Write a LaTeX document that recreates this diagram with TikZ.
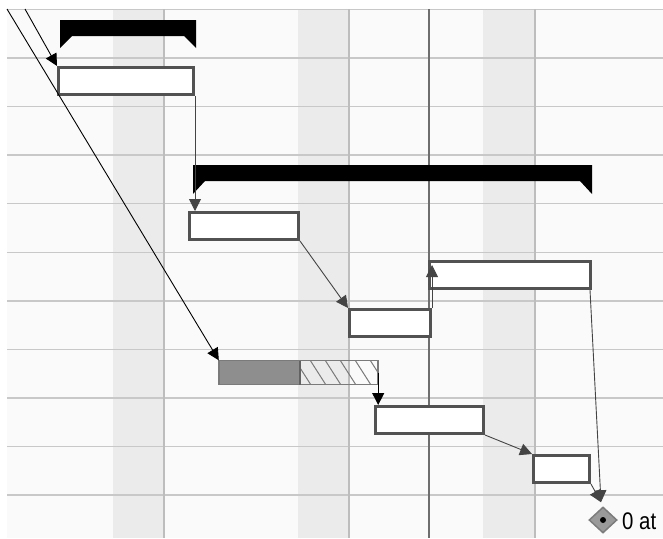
\documentclass[tikz,border=0pt]{standalone}
\usepackage{fontspec}
\usetikzlibrary{arrows.meta,shapes.geometric,calc}
\definecolor{bgc}{HTML}{FAFAFA}
\definecolor{bandc}{HTML}{EBEBEB}
\definecolor{gridc}{HTML}{C8C8C8}
\definecolor{vgridc}{HTML}{BDBDBD}
\definecolor{taskc}{HTML}{525252}
\definecolor{linkc}{HTML}{444444}
\definecolor{datec}{HTML}{6E6E6E}
\definecolor{donec}{HTML}{8E8E8E}
\definecolor{progc}{HTML}{7A7A7A}
\definecolor{msfill}{HTML}{9A9A9A}
\definecolor{msdraw}{HTML}{7C7C7C}
\newfontfamily\labelfont{Liberation Sans}
\begin{document}
\begin{tikzpicture}[x=1pt,y=-1pt,
  taskbox/.style={rectangle,draw=taskc,line width=3pt,fill=white,inner sep=0pt},
  link/.style={draw=linkc,line width=0.9pt,-{Triangle[length=12pt,width=12pt]}},
  blink/.style={draw=black,line width=0.9pt,-{Triangle[length=12pt,width=12pt]}},
  summary/.style={fill=black},
]
\useasboundingbox (0,0) rectangle (663,538);
\fill[white] (0,0) rectangle (663,538);
% grid background
\fill[bgc] (7,9) rectangle (663,538);
\foreach \bx in {113,298,483}{\fill[bandc] (\bx,9) rectangle ({\bx+51},538);}
\foreach \k in {0,...,10}{\draw[gridc,line width=1.5pt] (7,{9.5+48.55*\k}) -- (663,{9.5+48.55*\k});}
\foreach \vx in {164,349,535}{\draw[vgridc,line width=1.5pt] (\vx,9) -- (\vx,538);}
% current date line
\draw[datec,line width=1.5pt] (429,9) -- (429,538);

% summary bars
\fill[summary] (60,20) -- (196,20) -- (196,48) -- (184,36) -- (72,36) -- (60,48) -- cycle;
\fill[summary] (193,165) -- (592,165) -- (592,194) -- (580,181) -- (205,181) -- (193,194) -- cycle;

% tasks
\node[taskbox,minimum width=135pt,minimum height=27pt] (T1) at (126,81) {};
\node[taskbox,minimum width=109pt,minimum height=27pt] (T2) at (244,226) {};
\node[taskbox,minimum width=81pt,minimum height=27pt] (T3) at (390,323) {};
\node[taskbox,minimum width=161pt,minimum height=27pt] (T4) at (510,275) {};
\node[taskbox,minimum width=108pt,minimum height=27pt] (T5) at (429.5,420) {};
\node[taskbox,minimum width=56pt,minimum height=27pt] (T6) at (561.5,469) {};

% progress task
\node[rectangle,inner sep=0pt,minimum width=159pt,minimum height=24pt] (P) at (298.5,372.5) {};
\fill[donec] (P.north west) rectangle (300,385);
\begin{scope}
  \clip (300,360.5) rectangle (P.south east);
  \foreach \i in {0,...,6}{\draw[progc,line width=1pt] ({295+15*\i},360) -- ({311+15*\i},385);}
\end{scope}
\draw[progc,line width=1.5pt] (P.north west) rectangle (P.south east);
\draw[progc!80!black,line width=1.5pt] (300,360.5) -- (300,384.5);

% milestone
\node[diamond,draw=msdraw,fill=msfill,line width=1.5pt,minimum width=28pt,minimum height=26pt,inner sep=0pt] (M) at (603,520) {};
\fill[black] (M.center) circle (3pt);
\node[anchor=base west,inner sep=0pt,font=\labelfont\fontsize{24}{24}\selectfont] (ML) at (622,529) {\scalebox{0.85}[1]{0 at}};

% connectors
\coordinate (s1) at (7,9);
\coordinate (s2) at (25,9);
\draw[blink] (s1) -- (P.north west);
\draw[blink] (s2) -- (T1.north west);
\draw[link] (T1.south east) -- (T1.south east |- T2.north);
\draw[link] (T2.south east) -- (T3.north west);
\draw[link] (T3.north east) -- ($(T3.north east |- T4.north)+(0,5)$);
\draw[blink] (P.east) -- (P.east |- T5.north);
\draw[link] (T5.south east) -- (T6.north west);
\draw[link] ($(T4.south east)+(-2,0)$) -- ($(M.north)+(-2,-4)$);
\draw[link] (T6.south east) -- ($(M.north)+(-2,-4)$);
\end{tikzpicture}
\end{document}
